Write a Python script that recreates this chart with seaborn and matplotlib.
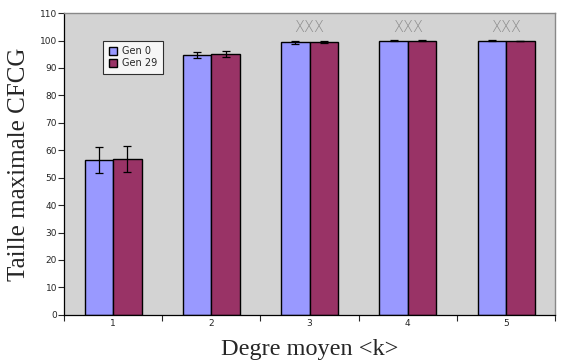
import pandas as pd
import matplotlib
matplotlib.use("Agg")
import matplotlib.pyplot as plt
import seaborn as sns

# values
degres = ["1", "2", "3", "4", "5"]
gen0 = [56.5, 94.7, 99.3, 99.9, 99.9]
gen29 = [56.8, 95.0, 99.5, 99.9, 99.9]
err0 = [4.8, 1.2, 0.4, 0.2, 0.2]
err29 = [4.7, 1.1, 0.3, 0.2, 0.1]
stars = ["", "", "XXX", "XXX", "XXX"]

df = pd.DataFrame({
    "degre": degres * 2,
    "taille": gen0 + gen29,
    "err": err0 + err29,
    "gen": ["Gen 0"] * 5 + ["Gen 29"] * 5,
})

sns.set_style("white")
fig = plt.figure(figsize=(5.66, 3.64), dpi=100)
ax = fig.add_axes([0.113, 0.135, 0.868, 0.829])
ax.set_facecolor("#d3d3d3")

sns.barplot(data=df, x="degre", y="taille", hue="gen",
            palette={"Gen 0": "#9999ff", "Gen 29": "#993366"},
            width=0.58, edgecolor="black", linewidth=1.0,
            errorbar=None, ax=ax, saturation=1)

# error bars on each bar
for cont, errs in zip(ax.containers, [err0, err29]):
    for patch, e in zip(cont.patches, errs):
        ax.errorbar(patch.get_x() + patch.get_width() / 2, patch.get_height(),
                    yerr=e, fmt="none", ecolor="black", elinewidth=0.9,
                    capsize=3, capthick=0.9)

for i, s in enumerate(stars):
    if s:
        ax.text(i, 104.8, s, ha="center", va="center", color="#8c8c8c",
                fontsize=10.5, family="DejaVu Sans", fontweight="light")

ax.set_xlim(-0.5, 4.5)
ax.set_ylim(0, 110)
ax.set_yticks(range(0, 111, 10))
ax.tick_params(axis="y", labelsize=6.5, length=4, width=0.8, direction="out", left=True, pad=1)

ax.set_xticks([-0.5, 0.5, 1.5, 2.5, 3.5, 4.5])
ax.set_xticklabels([])
ax.set_xticks(range(5), minor=True)
ax.set_xticklabels(degres, minor=True)
ax.tick_params(axis="x", which="major", length=4, width=0.8, direction="out", bottom=True)
ax.tick_params(axis="x", which="minor", length=0, labelsize=6.5, pad=3)

for side in ["top", "right"]:
    ax.spines[side].set_color("#888888")
    ax.spines[side].set_linewidth(1.0)
for side in ["left", "bottom"]:
    ax.spines[side].set_color("black")
    ax.spines[side].set_linewidth(0.9)

ax.set_xlabel("Degre moyen <k>", family="Liberation Serif", fontsize=17.5, labelpad=8)
ax.set_ylabel("Taille maximale CFCG", family="Liberation Serif", fontsize=18, labelpad=7)

leg = ax.legend(loc="upper left", bbox_to_anchor=(0.07, 0.925), fontsize=7,
                frameon=True, fancybox=False, edgecolor="black",
                handlelength=0.8, handleheight=0.8, borderpad=0.6,
                labelspacing=0.2, handletextpad=0.5)
leg.get_frame().set_linewidth(0.8)
leg.get_frame().set_facecolor("white")

fig.savefig("out.png", dpi=100)
